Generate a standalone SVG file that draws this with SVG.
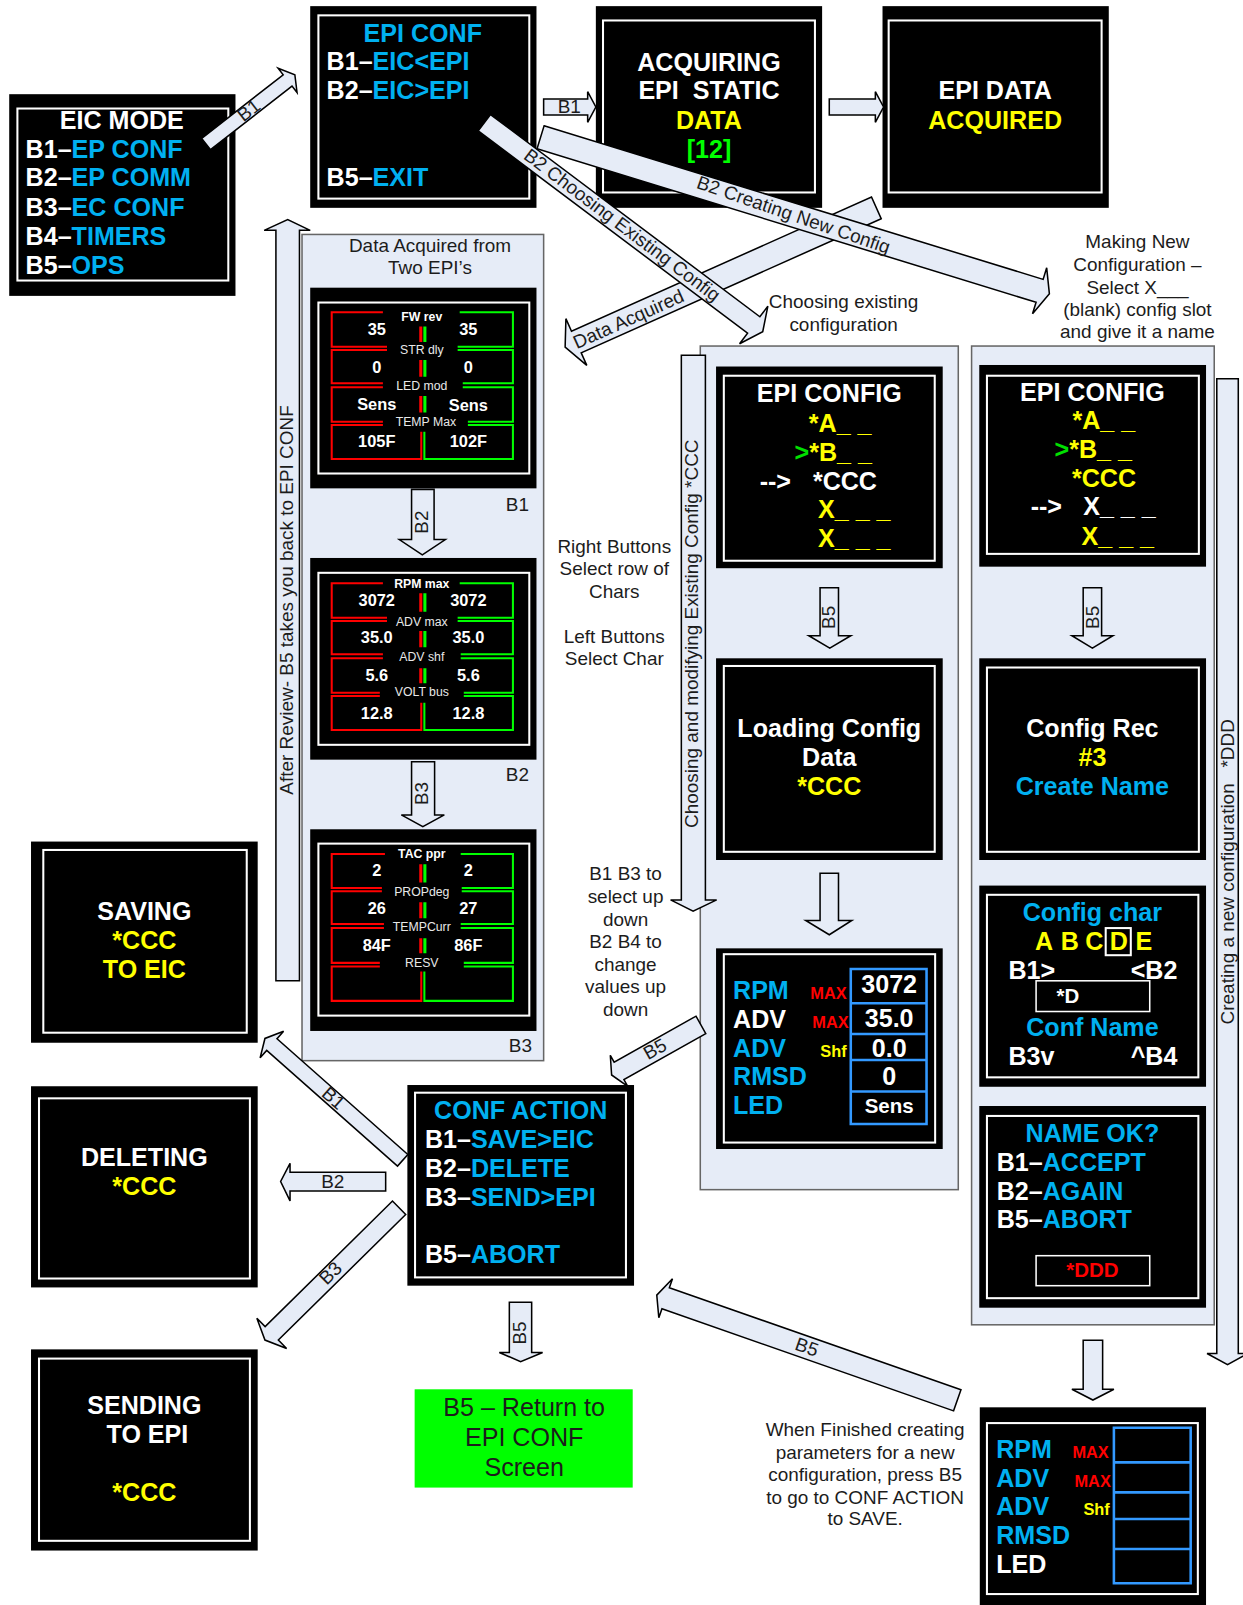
<svg xmlns="http://www.w3.org/2000/svg" width="1243" height="1605" viewBox="0 0 1243 1605">
<style>
text{font-family:"Liberation Sans",Arial,sans-serif}
.k{fill:#000}
.f{fill:none;stroke:#fff;stroke-width:2}
.t{font-weight:bold;font-size:24.5px;fill:#fff}
.c{text-anchor:middle}
.e{text-anchor:end}
.b{fill:#00b0f0}
.y{fill:#ffff00}
.r{fill:#ff0000}
.m{font-weight:bold;font-size:16px}
.p{fill:#e6ecf7;stroke:#666;stroke-width:1.5}
.a{fill:#e6ecf7;stroke:#000;stroke-width:1.5;stroke-linejoin:miter}
.l{font-size:18.5px;fill:#1c1c1c}
.lb{font-size:12px;fill:#e8e8e8;text-anchor:middle}
.lbb{font-size:12px;font-weight:bold;fill:#fff;text-anchor:middle}
.v{font-size:16px;font-weight:bold;fill:#fff;text-anchor:middle}
.red{fill:none;stroke:#ff0000;stroke-width:2}
.grn{fill:none;stroke:#00ff00;stroke-width:2}
.sr{fill:none;stroke:#ff0000;stroke-width:3}
.sg{fill:none;stroke:#00ff00;stroke-width:3}
.cell{fill:none;stroke:#3399ff;stroke-width:2.5}
.box{fill:none;stroke:#fff;stroke-width:1.5}
</style>
<g transform="scale(1.0238)">
<g id="panels">
<rect class="p" x="295" y="229" width="236" height="807"/>
<rect class="p" x="684" y="338" width="252" height="824"/>
<rect class="p" x="949" y="338" width="237" height="956"/>
</g>

<g id="eic-mode"><rect class="k" x="9" y="92" width="221" height="197"/><rect class="f" x="17" y="106" width="206" height="168"/>
<text class="t c" x="119" y="126">EIC MODE</text>
<text class="t" x="25" y="154">B1–<tspan class="b">EP CONF</tspan></text>
<text class="t" x="25" y="182">B2–<tspan class="b">EP COMM</tspan></text>
<text class="t" x="25" y="210.5">B3–<tspan class="b">EC CONF</tspan></text>
<text class="t" x="25" y="239">B4–<tspan class="b">TIMERS</tspan></text>
<text class="t" x="25" y="267.5">B5–<tspan class="b">OPS</tspan></text></g>

<g id="epi-conf"><rect class="k" x="303" y="6" width="221" height="197"/><rect class="f" x="311" y="15" width="206" height="179"/>
<text class="t c b" x="413" y="41">EPI CONF</text>
<text class="t" x="319" y="68">B1–<tspan class="b">EIC&lt;EPI</tspan></text>
<text class="t" x="319" y="96.5">B2–<tspan class="b">EIC&gt;EPI</tspan></text>
<text class="t" x="319" y="182">B5–<tspan class="b">EXIT</tspan></text></g>

<g id="acquiring"><rect class="k" x="582" y="6" width="221" height="197"/><rect class="f" x="589" y="20" width="207" height="168"/>
<text class="t c" x="692.5" y="69.4">ACQUIRING</text>
<text class="t c" x="692.5" y="97">EPI&#160; STATIC</text>
<text class="t c y" x="692.5" y="125.7">DATA</text>
<text class="t c" x="692.5" y="154" style="fill:#00ff00">[12]</text></g>

<g id="acquired"><rect class="k" x="862" y="6" width="221" height="197"/><rect class="f" x="868" y="20" width="208" height="168"/>
<text class="t c" x="972" y="97">EPI DATA</text>
<text class="t c y" x="972" y="125.7">ACQUIRED</text></g>

<g id="data-b1"><rect class="k" x="303" y="281" width="221" height="196"/><rect class="f" x="311" y="295.5" width="206" height="167"/>
<path class="red" d="M374 305H324V338.6H378M378 341.9H324V374.4H374M374 378.3H324V411.9H374M374 415.1H324V448.3H411.5V421.6"/>
<path class="grn" d="M449 305H501V338.6H447M447 341.9H501V374.4H452M452 378.3H501V411.9H457M457 415.1H501V448.3H414.5V421.6"/>
<path class="sr" d="M411 319V334M411 351.6V368M411 386.8V403"/>
<path class="sg" d="M415 319V334M415 351.6V368M415 386.8V403"/>
<text class="lbb" x="412" y="314">FW rev</text><text class="lb" x="412" y="346">STR dly</text><text class="lb" x="412" y="381">LED mod</text><text class="lb" x="416" y="416">TEMP Max</text>
<text class="v" x="368" y="327">35</text><text class="v" x="457.5" y="327">35</text>
<text class="v" x="368" y="364">0</text><text class="v" x="457.5" y="364">0</text>
<text class="v" x="368" y="400">Sens</text><text class="v" x="457.5" y="401">Sens</text>
<text class="v" x="368" y="437">105F</text><text class="v" x="457.5" y="437">102F</text></g>

<g id="data-b2"><rect class="k" x="303" y="545" width="221" height="197"/><rect class="f" x="311" y="559.5" width="206" height="168"/>
<path class="red" d="M374 569.7H324V603.3H378M378 606.6H324V639.1H374M374 643H324V676.6H371M371 679.8H324V713H411.5V686.3"/>
<path class="grn" d="M449 569.7H501V603.3H447M447 606.6H501V639.1H450M450 643H501V676.6H453M453 679.8H501V713H414.5V686.3"/>
<path class="sr" d="M411 579.5V597.5M411 616.3V632.3M411 652.8V667.4"/>
<path class="sg" d="M415 579.5V597.5M415 616.3V632.3M415 652.8V667.4"/>
<text class="lbb" x="412" y="574.5">RPM max</text><text class="lb" x="412" y="611">ADV max</text><text class="lb" x="412" y="646">ADV shf</text><text class="lb" x="412" y="680">VOLT bus</text>
<text class="v" x="368" y="592">3072</text><text class="v" x="457.5" y="592">3072</text>
<text class="v" x="368" y="628">35.0</text><text class="v" x="457.5" y="628">35.0</text>
<text class="v" x="368" y="665">5.6</text><text class="v" x="457.5" y="665">5.6</text>
<text class="v" x="368" y="702">12.8</text><text class="v" x="457.5" y="702">12.8</text></g>

<g id="data-b3"><rect class="k" x="303" y="810" width="221" height="197"/><rect class="f" x="311" y="824" width="206" height="168"/>
<path class="red" d="M376 834.1H324V867.3H373M373 870.6H324V902.5H375M375 906.5H324V940.5H371M371 944H324V977.6H411.5V948.9"/>
<path class="grn" d="M450 834.1H501V867.3H451M451 870.6H501V902.5H450M450 906.5H501V940.5H453M453 944H501V977.6H414.5V948.9"/>
<path class="sr" d="M411 844.2V862.1M411 881.3V896.9M411 916.5V931.2"/>
<path class="sg" d="M415 844.2V862.1M415 881.3V896.9M415 916.5V931.2"/>
<text class="lbb" x="412" y="838">TAC ppr</text><text class="lb" x="412" y="875">PROPdeg</text><text class="lb" x="412" y="909">TEMPCurr</text><text class="lb" x="412" y="945">RESV</text>
<text class="v" x="368" y="856">2</text><text class="v" x="457.5" y="856">2</text>
<text class="v" x="368" y="893">26</text><text class="v" x="457.5" y="893">27</text>
<text class="v" x="368" y="929">84F</text><text class="v" x="457.5" y="929">86F</text></g>

<g id="epi-config-a"><rect class="k" x="699.4" y="358" width="221.4" height="197"/><rect class="f" x="707" y="367" width="206" height="180.7"/>
<text class="t c" x="810" y="393">EPI CONFIG</text>
<text class="t y" x="790" y="421.7">*A_ _</text>
<text class="t" x="776" y="450"><tspan style="fill:#00e000">&gt;</tspan><tspan class="y">*B_ _</tspan></text>
<text class="t" x="742" y="478.5">--&gt;</text><text class="t" x="794" y="478.5">*CCC</text>
<text class="t y" x="799" y="506">X_ _ _</text>
<text class="t y" x="799" y="534">X_ _ _</text></g>

<g id="epi-config-b"><rect class="k" x="956.5" y="356.5" width="221.5" height="197"/><rect class="f" x="964" y="367" width="207" height="174"/>
<text class="t c" x="1067" y="391.5">EPI CONFIG</text>
<text class="t y" x="1047.5" y="418.8">*A_ _</text>
<text class="t" x="1030" y="447.7"><tspan style="fill:#00e000">&gt;</tspan><tspan class="y">*B_ _</tspan></text>
<text class="t y" x="1047" y="475.5">*CCC</text>
<text class="t" x="1006.7" y="503.5">--&gt;</text><text class="t" x="1058" y="503">X_ _ _</text>
<text class="t y" x="1056.4" y="532">X_ _ _</text></g>

<g id="loading"><rect class="k" x="699.4" y="643" width="221.4" height="197"/><rect class="f" x="707" y="650.5" width="206" height="181.5"/>
<text class="t c" x="810" y="720">Loading Config</text>
<text class="t c" x="810" y="748">Data</text>
<text class="t c y" x="810" y="777">*CCC</text></g>

<g id="config-rec"><rect class="k" x="956.5" y="643" width="221.5" height="197"/><rect class="f" x="964" y="652" width="207" height="180"/>
<text class="t c" x="1067" y="720">Config Rec</text>
<text class="t c y" x="1067" y="748.5">#3</text>
<text class="t c b" x="1067" y="777">Create Name</text></g>

<g id="table-a"><rect class="k" x="699.4" y="926.3" width="221.4" height="196"/><rect class="f" x="707" y="932" width="206.4" height="184"/>
<path class="cell" d="M831 946.4H905V1097.8H831ZM831 979.9H905M831 1009.9H905M831 1035.3H905M831 1066.2H905"/>
<text class="t b" x="716" y="976">RPM</text><text class="t" x="716" y="1004">ADV</text><text class="t b" x="716" y="1032.5">ADV</text><text class="t b" x="716" y="1060">RMSD</text><text class="t b" x="716" y="1088">LED</text>
<text class="m e r" x="827" y="975.6">MAX</text><text class="m e r" x="829" y="1004">MAX</text><text class="m e y" x="827" y="1032">Shf</text>
<text class="t c" x="868.5" y="970">3072</text><text class="t c" x="868.5" y="1003">35.0</text><text class="t c" x="868.5" y="1032">0.0</text><text class="t c" x="868.5" y="1060">0</text>
<text class="t c" x="868.5" y="1087" style="font-size:20px">Sens</text></g>

<g id="config-char"><rect class="k" x="956.5" y="865" width="221.5" height="196.5"/><rect class="f" x="964" y="874" width="206.5" height="178.3"/>
<text class="t c b" x="1067" y="899.5">Config char</text>
<text class="t y" x="1011" y="928">A</text><text class="t y" x="1036" y="928">B</text><text class="t y" x="1060" y="928">C</text><text class="t y" x="1084" y="928">D</text><text class="t y" x="1109" y="928">E</text>
<rect class="f" x="1080" y="906.5" width="24.5" height="26.5"/>
<text class="t" x="985" y="956.5">B1&gt;</text><text class="t e" x="1150" y="956.5">&lt;B2</text>
<rect class="box" x="1012" y="958" width="111" height="30"/>
<text class="t c" x="1043" y="979.3" style="font-size:20px">*D</text>
<text class="t c b" x="1067" y="1011.6">Conf Name</text>
<text class="t" x="985" y="1040">B3v</text><text class="t e" x="1150" y="1040">^B4</text></g>

<g id="name-ok"><rect class="k" x="956.5" y="1080.3" width="221.5" height="197"/><rect class="f" x="964" y="1090" width="206.5" height="178"/>
<text class="t c b" x="1067" y="1115">NAME OK?</text>
<text class="t" x="973.5" y="1143.8">B1–<tspan class="b">ACCEPT</tspan></text>
<text class="t" x="973.5" y="1172">B2–<tspan class="b">AGAIN</tspan></text>
<text class="t" x="973.5" y="1199.5">B5–<tspan class="b">ABORT</tspan></text>
<rect class="box" x="1012" y="1226.5" width="111" height="29.3"/>
<text class="t c r" x="1067" y="1247.6" style="font-size:20px">*DDD</text></g>

<g id="table-b"><rect class="k" x="957" y="1374.6" width="221" height="193.4"/><rect class="f" x="964" y="1390" width="206" height="167"/>
<path class="cell" d="M1088 1394.5H1163V1546.5H1088ZM1088 1428.4H1163M1088 1457.7H1163M1088 1483.7H1163M1088 1513H1163"/>
<text class="t b" x="973" y="1424">RPM</text><text class="t b" x="973" y="1452">ADV</text><text class="t b" x="973" y="1480">ADV</text><text class="t b" x="973" y="1508">RMSD</text><text class="t" x="973" y="1536">LED</text>
<text class="m e r" x="1083" y="1424.5">MAX</text><text class="m e r" x="1085" y="1452.7">MAX</text><text class="m e y" x="1084" y="1480">Shf</text></g>

<g id="conf-action"><rect class="k" x="397.9" y="1059.8" width="221.4" height="196"/><rect class="f" x="405.4" y="1067.3" width="206" height="180.4"/>
<text class="t c b" x="508.6" y="1093">CONF ACTION</text>
<text class="t" x="415" y="1121">B1–<tspan class="b">SAVE&gt;EIC</tspan></text>
<text class="t" x="415" y="1149.4">B2–<tspan class="b">DELETE</tspan></text>
<text class="t" x="415" y="1177.7">B3–<tspan class="b">SEND&gt;EPI</tspan></text>
<text class="t" x="415" y="1234">B5–<tspan class="b">ABORT</tspan></text></g>

<g id="saving"><rect class="k" x="30.3" y="822" width="221.4" height="196.5"/><rect class="f" x="42.3" y="830.2" width="198.7" height="178.5"/>
<text class="t c" x="141" y="898.6">SAVING</text>
<text class="t c y" x="141" y="927">*CCC</text>
<text class="t c y" x="141" y="955">TO EIC</text></g>

<g id="deleting"><rect class="k" x="30.3" y="1061" width="221.4" height="196.5"/><rect class="f" x="38.1" y="1072.8" width="206" height="176"/>
<text class="t c" x="141" y="1139">DELETING</text>
<text class="t c y" x="141" y="1167">*CCC</text></g>

<g id="sending"><rect class="k" x="30.3" y="1318" width="221.4" height="196.5"/><rect class="f" x="38.1" y="1327" width="206" height="178"/>
<text class="t c" x="141" y="1381">SENDING</text>
<text class="t c" x="144" y="1409.5">TO EPI</text>
<text class="t c y" x="141" y="1466">*CCC</text></g>

<g id="return-note"><rect x="405" y="1357" width="213" height="96" fill="#00ff00"/>
<text class="c" x="512" y="1383" style="font-size:24.5px;fill:#1c1c1c">B5 – Return to</text>
<text class="c" x="512" y="1412" style="font-size:24.5px;fill:#1c1c1c">EPI CONF</text>
<text class="c" x="512" y="1442" style="font-size:24.5px;fill:#1c1c1c">Screen</text></g>

<g id="notes">
<text class="l c" x="420" y="246">Data Acquired from</text><text class="l c" x="420" y="268">Two EPI’s</text>
<text class="l c" x="824" y="301">Choosing existing</text><text class="l c" x="824" y="323">configuration</text>
<text class="l c" x="1111" y="242">Making New</text><text class="l c" x="1111" y="265">Configuration –</text><text class="l c" x="1111" y="287">Select X___</text><text class="l c" x="1111" y="309">(blank) config slot</text><text class="l c" x="1111" y="330">and give it a name</text>
<text class="l c" x="600" y="540">Right Buttons</text><text class="l c" x="600" y="562">Select row of</text><text class="l c" x="600" y="584">Chars</text>
<text class="l c" x="600" y="628">Left Buttons</text><text class="l c" x="600" y="650">Select Char</text>
<text class="l c" x="611" y="860">B1 B3 to</text><text class="l c" x="611" y="882">select up</text><text class="l c" x="611" y="904">down</text><text class="l c" x="611" y="926">B2 B4 to</text><text class="l c" x="611" y="948">change</text><text class="l c" x="611" y="970">values up</text><text class="l c" x="611" y="992">down</text>
<text class="l c" x="845" y="1403">When Finished creating</text><text class="l c" x="845" y="1425">parameters for a new</text><text class="l c" x="845" y="1447">configuration, press B5</text><text class="l c" x="845" y="1469">to go to CONF ACTION</text><text class="l c" x="845" y="1490">to SAVE.</text>
<text class="l" x="494" y="499">B1</text><text class="l" x="494" y="763">B2</text><text class="l" x="497" y="1028">B3</text>
</g>

<g id="connectors">
<polygon class="a" transform="translate(288,73) rotate(-38)" points="-110,-7 -9,-7 -9,-15 0,0 -9,15 -9,7 -110,7"/>
<text class="l c" transform="translate(243,108) rotate(-38)" y="6">B1</text>
<polygon class="a" transform="translate(582,104.5)" points="-51,-7.8 -8,-7.8 -8,-15 0,0 -8,15 -8,7.8 -51,7.8"/>
<text class="l c" x="556" y="110.5">B1</text>
<polygon class="a" transform="translate(863,104.5)" points="-53,-7.8 -8,-7.8 -8,-15 0,0 -8,15 -8,7.8 -53,7.8"/>
<polygon class="a" transform="translate(552,339) rotate(155.9)" points="-333,-11.6 -12,-11.6 -12,-25 0,0 -12,25 -12,11.6 -333,11.6"/>
<text class="l c" transform="translate(614,312) rotate(-24.1)" y="6">Data Acquired</text>
<polygon class="a" transform="translate(1025,287) rotate(17.1)" points="-520,-11.7 -10,-11.7 -10,-23.5 0,0 -10,23.5 -10,11.7 -520,11.7"/>
<text class="l c" transform="translate(775,210) rotate(19)" y="6">B2 Creating New Config</text>
<polygon class="a" transform="translate(745,324) rotate(36.9)" points="-340,-10 -11,-10 -11,-23 0,0 -11,23 -11,10 -340,10"/>
<text class="l c" transform="translate(607.5,220) rotate(37)" y="6">B2 Choosing Existing Config</text>
<polygon class="a" points="269.5,958 269.5,225 258,225 281,214.5 303,225 292.5,225 292.5,958"/>
<text class="l c" transform="translate(280,586) rotate(-90)" y="6">After Review- B5 takes you back to EPI CONF</text>
<polygon class="a" points="402,478 424,478 424,527 435,527 412.5,542 390,527 402,527"/>
<text class="l c" transform="translate(412.5,510) rotate(-90)" y="6">B2</text>
<polygon class="a" points="402,744 424.5,744 424.5,796 434,796 413,807.5 392,796 402,796"/>
<text class="l c" transform="translate(412.5,775) rotate(-90)" y="6">B3</text>
<polygon class="a" points="665.5,347 689,347 689,879 700,879 677,890 655,879 665.5,879"/>
<text class="l c" transform="translate(676,619) rotate(-90)" y="6">Choosing and modifying Existing Config *CCC</text>
<polygon class="a" points="1188.5,370 1209.5,370 1209.5,1322 1219,1322 1199,1333 1179,1322 1188.5,1322"/>
<text class="l c" transform="translate(1199,851.5) rotate(-90)" y="6">Creating a new configuration&#160;&#160;&#160;*DDD</text>
<polygon class="a" points="801,574 819,574 819,621 831,621 810.5,633 790,621 801,621"/>
<text class="l c" transform="translate(810,603) rotate(-90)" y="6">B5</text>
<polygon class="a" points="801,853 819,853 819,899 832,899 810,913 787,899 801,899"/>
<polygon class="a" points="1058,574 1076,574 1076,621 1087,621 1067,633 1047,621 1058,621"/>
<text class="l c" transform="translate(1067,603) rotate(-90)" y="6">B5</text>
<polygon class="a" points="1058,1309 1077,1309 1077,1357 1088,1357 1067.5,1367.5 1047,1357 1058,1357"/>
<polygon class="a" points="497.5,1272 519.3,1272 519.3,1321 530,1321 508.5,1330 487.7,1321 497.5,1321"/>
<text class="l c" transform="translate(508,1302) rotate(-90)" y="6">B5</text>
<polygon class="a" transform="translate(597.4,1050) rotate(150.7)" points="-100,-9.75 -8.3,-9.75 -8.3,-17.4 0,0 -8.3,17.4 -8.3,9.75 -100,9.75"/>
<text class="l c" transform="translate(639.8,1024.9) rotate(-29.3)" y="6">B5</text>
<polygon class="a" transform="translate(258.8,1014.3) rotate(221.5)" points="-179.6,-7.6 -9,-7.6 -9,-17.3 0,0 -9,17.3 -9,7.6 -179.6,7.6"/>
<text class="l c" transform="translate(325.6,1072.8) rotate(41.5)" y="6">B1</text>
<polygon class="a" points="376.7,1145 283.3,1145 283.3,1136.3 274.1,1154 283.3,1173 283.3,1163.4 376.7,1163.4"/>
<text class="l c" x="325" y="1160">B2</text>
<polygon class="a" transform="translate(258.8,1308.9) rotate(135.4)" points="-184,-9.2 -9.3,-9.2 -9.3,-20.7 0,0 -9.3,20.7 -9.3,9.2 -184,9.2"/>
<text class="l c" transform="translate(323,1243.7) rotate(-45)" y="6">B3</text>
<polygon class="a" transform="translate(641.5,1265) rotate(199.3)" points="-311,-10.9 -9.2,-10.9 -9.2,-20.2 0,0 -9.2,20.2 -9.2,10.9 -311,10.9"/>
<text class="l c" transform="translate(788,1316) rotate(19.3)" y="6">B5</text>
</g>
</g>
</svg>
